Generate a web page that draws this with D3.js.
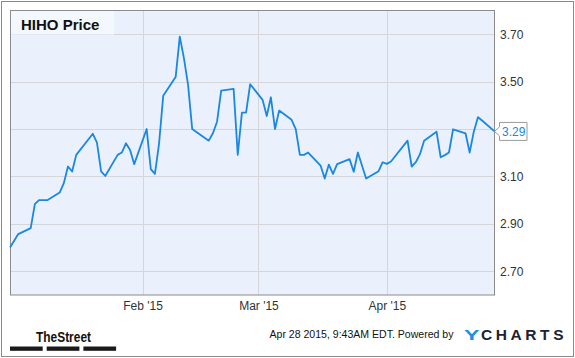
<!DOCTYPE html>
<html>
<head>
<meta charset="utf-8">
<script src="https://cdn.jsdelivr.net/npm/d3@7"></script>
<style>
  html, body { margin: 0; padding: 0; background: #fff; }
  svg { display: block; font-family: "Liberation Sans", Arial, sans-serif; }
</style>
</head>
<body>
<svg id="chart" width="575" height="358"></svg>
<script>
// ---- data ----
const dates = [
  "2014-12-31","2015-01-02","2015-01-05","2015-01-06","2015-01-07","2015-01-08","2015-01-09",
  "2015-01-12","2015-01-13","2015-01-14","2015-01-15","2015-01-16","2015-01-20","2015-01-21",
  "2015-01-22","2015-01-23","2015-01-26","2015-01-27","2015-01-28","2015-01-29","2015-01-30",
  "2015-02-02","2015-02-03","2015-02-04","2015-02-05","2015-02-06","2015-02-09","2015-02-10",
  "2015-02-11","2015-02-12","2015-02-13","2015-02-17","2015-02-18","2015-02-19","2015-02-20",
  "2015-02-23","2015-02-24","2015-02-25","2015-02-26","2015-02-27","2015-03-02","2015-03-03",
  "2015-03-04","2015-03-05","2015-03-06","2015-03-09","2015-03-10","2015-03-11","2015-03-12",
  "2015-03-13","2015-03-16","2015-03-17","2015-03-18","2015-03-19","2015-03-20","2015-03-23",
  "2015-03-24","2015-03-25","2015-03-26","2015-03-27","2015-03-30","2015-03-31","2015-04-01",
  "2015-04-02","2015-04-06","2015-04-07","2015-04-08","2015-04-09","2015-04-10","2015-04-13",
  "2015-04-14","2015-04-15","2015-04-16","2015-04-17","2015-04-20","2015-04-21","2015-04-22",
  "2015-04-23","2015-04-24","2015-04-27"
];
const prices = [
  2.80, 2.857, 2.882, 2.983, 3.00, 3.00, 3.00,
  3.032, 3.072, 3.142, 3.121, 3.191, 3.28, 3.243,
  3.121, 3.102, 3.191, 3.201, 3.24, 3.212, 3.152,
  3.30, 3.131, 3.111, 3.24, 3.44, 3.519, 3.69,
  3.599, 3.486, 3.30, 3.251, 3.282, 3.331, 3.462,
  3.469, 3.191, 3.369, 3.369, 3.489, 3.423, 3.355,
  3.434, 3.30, 3.378, 3.339, 3.30, 3.191, 3.191,
  3.201, 3.146, 3.091, 3.15, 3.111, 3.152, 3.173,
  3.12, 3.201, 3.146, 3.091, 3.122, 3.16, 3.153,
  3.163, 3.251, 3.142, 3.16, 3.194, 3.251, 3.289,
  3.181, 3.19, 3.201, 3.299, 3.282, 3.201, 3.289,
  3.35, 3.336, 3.29
];
const yTicks = [2.70, 2.90, 3.10, 3.30, 3.50, 3.70];
// 3.30 label is hidden behind the last-value callout in the reference
const yTickLabels = [2.70, 2.90, 3.10, 3.50, 3.70];
const yDomain = [2.60, 3.80];
const xTickDates = ["2015-02-01", "2015-03-01", "2015-04-01"];
const xTickLabels = ["Feb '15", "Mar '15", "Apr '15"];
const title = "HIHO Price";
const lastLabel = "3.29";

// ---- setup ----
const parse = d3.timeParse("%Y-%m-%d");
const data = dates.map((d, i) => ({ date: parse(d), value: prices[i] }));

const svg = d3.select("#chart");
const plot = { left: 10, right: 494.5, top: 10.5, bottom: 295 };

const x = d3.scaleTime()
  .domain(d3.extent(data, d => d.date))
  .range([plot.left, plot.right]);
const y = d3.scaleLinear()
  .domain(yDomain)
  .range([plot.bottom, plot.top]);

// outer border
svg.append("rect")
  .attr("x", 1.5).attr("y", 1.5)
  .attr("width", 572).attr("height", 355)
  .attr("fill", "#fff").attr("stroke", "#8a8a8a").attr("stroke-width", 1);

// plot background
svg.append("rect")
  .attr("x", plot.left).attr("y", plot.top)
  .attr("width", plot.right - plot.left).attr("height", plot.bottom - plot.top)
  .attr("fill", "#eaf1fc");

// horizontal grid
svg.append("g").selectAll("line").data(yTicks).join("line")
  .attr("x1", plot.left).attr("x2", plot.right)
  .attr("y1", d => Math.round(y(d)) + 0.5).attr("y2", d => Math.round(y(d)) + 0.5)
  .attr("stroke", "#d5d6d8").attr("stroke-width", 1);

// vertical grid
const xt = xTickDates.map(parse);
svg.append("g").selectAll("line").data(xt).join("line")
  .attr("x1", d => Math.round(x(d)) + 0.5).attr("x2", d => Math.round(x(d)) + 0.5)
  .attr("y1", plot.top).attr("y2", plot.bottom)
  .attr("stroke", "#d5d6d8").attr("stroke-width", 1);

// title box
svg.append("rect")
  .attr("x", plot.left + 0.5).attr("y", plot.top)
  .attr("width", 103.5).attr("height", 24)
  .attr("fill", "#f3f7fe");
svg.append("text")
  .attr("x", 21).attr("y", 29.5)
  .attr("font-size", 15).attr("font-weight", "bold")
  .attr("fill", "#111")
  .text(title);

// plot frame
svg.append("rect")
  .attr("x", plot.left + 0.5).attr("y", plot.top)
  .attr("width", plot.right - plot.left - 0.5).attr("height", plot.bottom - plot.top)
  .attr("fill", "none").attr("stroke", "#8c8c8c").attr("stroke-width", 1);

// line
const line = d3.line().x(d => x(d.date)).y(d => y(d.value));
svg.append("path")
  .datum(data)
  .attr("d", line)
  .attr("fill", "none")
  .attr("stroke", "#1a87e3")
  .attr("stroke-width", 1.8)
  .attr("stroke-linejoin", "round");

// y axis labels (right)
const yAxis = d3.axisRight(y).tickValues(yTickLabels).tickFormat(d3.format(".2f")).tickSize(0).tickPadding(0);
const ya = svg.append("g").attr("transform", `translate(${plot.right + 5.5},0)`).call(yAxis);
ya.select(".domain").remove();
ya.selectAll("text")
  .attr("font-family", "'Liberation Sans', Arial, sans-serif")
  .attr("font-size", 12).attr("fill", "#333");

// x axis labels
const xAxis = d3.axisBottom(x).tickValues(xt)
  .tickFormat((d, i) => xTickLabels[i]).tickSize(0).tickPadding(0);
const xa = svg.append("g").attr("transform", `translate(0,${plot.bottom + 6})`).call(xAxis);
xa.select(".domain").remove();
xa.selectAll("text")
  .attr("font-family", "'Liberation Sans', Arial, sans-serif")
  .attr("font-size", 12).attr("fill", "#333");

// last value callout
const last = data[data.length - 1];
const lx = x(last.date), ly = y(last.value);
const bx = lx + 5, bw = 27.5, bh = 18;
svg.append("path")
  .attr("d", `M${lx},${ly} L${bx},${ly - 4.5} L${bx},${ly - bh / 2} L${bx + bw},${ly - bh / 2} L${bx + bw},${ly + bh / 2} L${bx},${ly + bh / 2} L${bx},${ly + 4.5} Z`)
  .attr("fill", "#fff").attr("stroke", "#9a9a9a").attr("stroke-width", 1);
svg.append("text")
  .attr("x", bx + 2.5).attr("y", ly + 4.3)
  .attr("font-size", 12).attr("fill", "#1a87e3")
  .text(lastLabel);

// footer: TheStreet logo
svg.append("text")
  .attr("x", 36).attr("y", 341.5)
  .attr("font-family", "'Liberation Sans Narrow', 'Arial Narrow', 'Liberation Sans', sans-serif")
  .attr("font-size", 15.5).attr("font-weight", "bold")
  .attr("textLength", 55).attr("lengthAdjust", "spacingAndGlyphs")
  .attr("fill", "#111")
  .text("TheStreet");
const bars = [0, 1, 2];
svg.append("g").selectAll("rect").data(bars).join("rect")
  .attr("x", d => 10 + d * 36.7).attr("y", 346.5)
  .attr("width", 32.7).attr("height", 4.3)
  .attr("fill", "#1a1a1a");

// footer: timestamp + YCHARTS
svg.append("text")
  .attr("x", 269.5).attr("y", 337.5)
  .attr("font-size", 11)
  .attr("textLength", 184).attr("lengthAdjust", "spacingAndGlyphs")
  .attr("fill", "#111")
  .text("Apr 28 2015, 9:43AM EDT.  Powered by");
svg.append("text")
  .attr("x", 464).attr("y", 339.5)
  .attr("font-size", 15.5).attr("font-weight", "bold")
  .attr("textLength", 15.5).attr("lengthAdjust", "spacingAndGlyphs")
  .attr("fill", "#1e90e8")
  .text("Y");
svg.append("text")
  .attr("x", 481).attr("y", 339.5)
  .attr("font-size", 15.5).attr("font-weight", "bold")
  .attr("textLength", 82.5).attr("lengthAdjust", "spacing")
  .attr("fill", "#1b2230")
  .text("CHARTS");
</script>
</body>
</html>
